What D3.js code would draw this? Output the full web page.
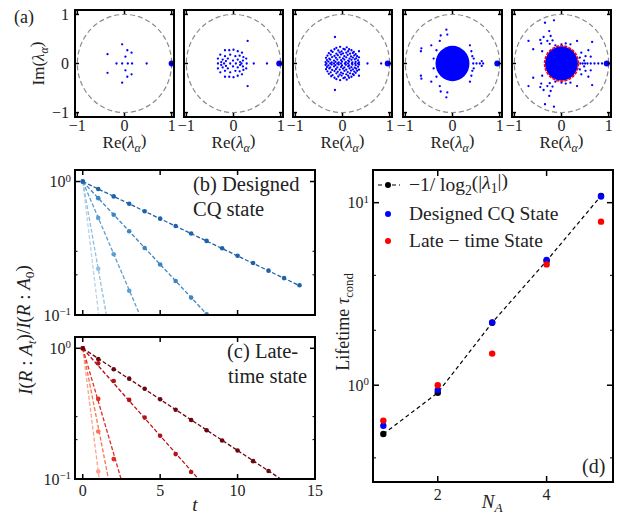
<!DOCTYPE html>
<html>
<head>
<meta charset="utf-8">
<script src="https://cdn.jsdelivr.net/npm/d3@7"></script>
<style>
  body { margin: 0; background: #fff; }
  svg text { font-family: "Liberation Serif", "Times New Roman", serif; fill: #222; }
</style>
</head>
<body>
<div id="fig"></div>
<script>
// ---- (a) spectra: eigenvalues with Im > 0 (conjugates are mirrored), real ones, leading eigenvalue
var eigUpper1 = [[-0.05,0.39],[-0.36,0.19],[0.06,0.27],[0.15,0.22],[0.02,0.14]];
var eigReal1  = [-0.17,-0.05,0.07,0.16,0.47];

var eigUpper2 = [[0.30,0.46],[-0.18,0.27],[-0.09,0.27],[0.00,0.28],[0.09,0.25],[0.18,0.22],
  [-0.28,0.18],[-0.18,0.15],[-0.07,0.18],[0.04,0.15],[0.13,0.16],[0.21,0.13],[-0.33,0.10],
  [-0.23,0.08],[-0.12,0.10],[-0.01,0.06],[0.09,0.08],[0.20,0.06],[0.27,0.10],[-0.26,0.03],
  [-0.16,0.05],[0.14,0.03]];
var eigReal2  = [-0.33,-0.20,-0.07,0.05,0.17,0.28,0.43,0.71];

var eigUpper3 = [[-0.16,0.54],[0.35,0.25],
  [-0.13,0.32],[-0.05,0.34],[0.02,0.30],[0.09,0.33],[0.14,0.29],
  [-0.24,0.26],[-0.17,0.29],[-0.09,0.265],[-0.02,0.245],[0.05,0.285],[0.12,0.25],[0.19,0.27],[0.24,0.235],
  [-0.29,0.21],[-0.21,0.235],[-0.13,0.20],[-0.06,0.225],[0.01,0.205],[0.08,0.22],[0.16,0.20],[0.22,0.215],[0.28,0.19],
  [-0.32,0.16],[-0.25,0.18],[-0.17,0.155],[-0.10,0.17],[-0.03,0.185],[0.04,0.15],[0.11,0.175],[0.18,0.145],[0.25,0.165],[0.31,0.15],
  [-0.35,0.115],[-0.28,0.10],[-0.22,0.13],[-0.14,0.115],[-0.06,0.125],[0.01,0.105],[0.08,0.125],[0.15,0.10],[0.22,0.12],[0.29,0.105],[0.35,0.125],
  [-0.33,0.07],[-0.26,0.08],[-0.18,0.06],[-0.11,0.08],[-0.03,0.07],[0.04,0.08],[0.12,0.06],[0.19,0.075],[0.26,0.085],[0.33,0.065],
  [-0.36,0.03],[-0.30,0.04],[-0.23,0.02],[-0.15,0.035],[-0.08,0.02],[-0.01,0.04],[0.07,0.025],[0.14,0.04],[0.21,0.02],[0.28,0.035],[0.35,0.02]];
var eigReal3  = [-0.34,-0.26,-0.18,-0.11,-0.03,0.05,0.12,0.20,0.27,0.33,0.53,0.82];

var eigUpper4 = [[-0.13,0.69],[-0.25,0.57],[-0.11,0.59],[-0.27,0.46],[-0.45,0.37],[-0.66,0.31],
  [-0.67,0.25],[-0.34,0.27],[0.37,0.37],[0.40,0.25],[0.42,0.15],[0.45,0.10],[0.62,0.05],[-0.40,0.10]];
var eigReal4  = [0.44,0.51,0.58,0.65];

var eigUpper5 = [[-0.35,0.83],[-0.16,0.88],[-0.26,0.66],[-0.38,0.54],[-0.45,0.48],[-0.43,0.41],
  [-0.70,0.46],[-0.60,0.29],[-0.30,0.46],[-0.25,0.40],[-0.19,0.47],[-0.13,0.37],[0.00,0.39],
  [0.09,0.41],[0.19,0.39],[0.33,0.46],[0.65,0.44],[0.57,0.27],[0.51,0.15],[0.62,0.14],
  [0.42,0.22],[0.39,0.12],[0.48,0.06],[-0.41,0.25],[-0.23,0.56]];
var eigReal5  = [0.40,0.45,0.50,0.55,0.62,0.70,0.78,0.86];

var leadEig    = [1.00, 0.97, 0.96, 0.95, 0.96];
var bulkRadius = [0, 0, 0, 0.36, 0.35];   // dense bulk of the spectrum
var ringRadius = [0, 0, 0, 0, 0.36];      // red circle in the last panel

// ---- (b), (c) decay of I(R:A_t)/I(R:A_0), one series per N_A = 1..5
var decayB = [
  [1],
  [1, 0.222],
  [1, 0.534, 0.285, 0.152],
  [1, 0.751, 0.564, 0.424, 0.318, 0.239, 0.180, 0.135, 0.101],
  [1, 0.880, 0.774, 0.681, 0.599, 0.527, 0.464, 0.408, 0.359, 0.316, 0.278, 0.245, 0.215, 0.189, 0.167]
];
var decayC = [
  [1, 0.114],
  [1, 0.231],
  [1, 0.410, 0.142],
  [1, 0.767, 0.562, 0.403, 0.295, 0.214, 0.155, 0.113],
  [1, 0.828, 0.692, 0.586, 0.490, 0.408, 0.339, 0.283, 0.236, 0.197, 0.165, 0.137, 0.115]
];
var fitTauB = [0.62, 0.92, 2.22, 4.85, 10.8];
var fitTauC = [0.64, 1.00, 1.49, 4.50, 7.70];
var colorsB = ["#b6d4ea", "#92bfe0", "#5c9fd1", "#3d85c2", "#1f62ab"];
var colorsC = ["#fca487", "#f7734f", "#e22a27", "#b31219", "#6b0610"];

// ---- (d) lifetimes
var nA          = [1, 2, 3, 4, 5];
var tauLambda   = [0.54, 0.91, 2.20, 4.80, 10.9];
var tauDesigned = [0.60, 0.94, 2.21, 4.85, 10.8];
var tauLate     = [0.64, 1.00, 1.49, 4.59, 7.87];

var svg = d3.select("#fig").append("svg").attr("width", 620).attr("height", 521)
  .attr("font-family", "'Liberation Serif', 'Times New Roman', serif");

function frame(g, w, h) {
  g.append("rect").attr("width", w).attr("height", h)
    .attr("fill", "none").attr("stroke", "#000").attr("stroke-width", 2);
}
function tick(g, x1, y1, x2, y2, w) {
  g.append("line").attr("x1", x1).attr("y1", y1).attr("x2", x2).attr("y2", y2)
    .attr("stroke", "#000").attr("stroke-width", w || 1.5);
}
function powLabel(t, e) {
  t.append("tspan").text("10");
  t.append("tspan").attr("dy", "-0.5em").attr("font-size", "0.68em").text(e);
}

// ================= (a) =================
var panelLeft = [75, 184, 293, 403, 512];
var aTop = 10, aW = 99, aH = 107;
var xa = d3.scaleLinear().domain([-1.05, 1.05]).range([0, aW]);
var ya = d3.scaleLinear().domain([-1.09, 1.09]).range([aH, 0]);
var uppers = [eigUpper1, eigUpper2, eigUpper3, eigUpper4, eigUpper5];
var reals  = [eigReal1, eigReal2, eigReal3, eigReal4, eigReal5];

panelLeft.forEach(function(left, i) {
  var g = svg.append("g").attr("transform", "translate(" + left + "," + aTop + ")");
  g.append("ellipse")
    .attr("cx", xa(0)).attr("cy", ya(0))
    .attr("rx", xa(1) - xa(0)).attr("ry", ya(0) - ya(1))
    .attr("fill", "none").attr("stroke", "#8a8a8a").attr("stroke-width", 1.2)
    .attr("stroke-dasharray", "5,3");

  if (bulkRadius[i] > 0) {
    g.append("ellipse")
      .attr("cx", xa(0)).attr("cy", ya(0))
      .attr("rx", xa(bulkRadius[i]) - xa(0)).attr("ry", ya(0) - ya(bulkRadius[i]))
      .attr("fill", "#0000ff");
  }
  var pts = uppers[i].concat(uppers[i].map(function(p) { return [p[0], -p[1]]; }))
    .concat(reals[i].map(function(r) { return [r, 0]; }));
  g.selectAll("circle.eig").data(pts).enter().append("circle")
    .attr("class", "eig")
    .attr("cx", function(d) { return xa(d[0]); })
    .attr("cy", function(d) { return ya(d[1]); })
    .attr("r", 1.15).attr("fill", "#0000ff");
  if (ringRadius[i] > 0) {
    g.append("ellipse")
      .attr("cx", xa(0)).attr("cy", ya(0))
      .attr("rx", xa(ringRadius[i]) - xa(0)).attr("ry", ya(0) - ya(ringRadius[i]))
      .attr("fill", "none").attr("stroke", "#ff0000").attr("stroke-width", 1.6)
      .attr("stroke-dasharray", "3,1.2");
  }
  g.append("circle").attr("cx", xa(leadEig[i])).attr("cy", ya(0)).attr("r", 3).attr("fill", "#0000ff");

  frame(g, aW, aH);
  [-1, 0, 1].forEach(function(v) {
    tick(g, xa(v), 0, xa(v), 4);
    tick(g, xa(v), aH, xa(v), aH - 4);
    tick(g, 0, ya(v), 4, ya(v));
    tick(g, aW, ya(v), aW - 4, ya(v));
    g.append("text").attr("x", xa(v)).attr("y", aH + 14).attr("text-anchor", "middle")
      .attr("font-size", 16).text(v < 0 ? "\u2212" + Math.abs(v) : v);
  });
  var lab = g.append("text").attr("x", aW / 2).attr("y", aH + 31).attr("text-anchor", "middle").attr("font-size", 17);
  lab.append("tspan").text("Re(");
  lab.append("tspan").attr("font-style", "italic").text("\u03bb");
  lab.append("tspan").attr("font-style", "italic").attr("font-size", "0.7em").attr("dy", "0.3em").text("\u03b1");
  lab.append("tspan").attr("dy", "-0.3em").text(")");

  if (i === 0) {
    [-1, 0, 1].forEach(function(v) {
      g.append("text").attr("x", -6).attr("y", ya(v)).attr("dy", "0.35em").attr("text-anchor", "end")
        .attr("font-size", 16).text(v < 0 ? "\u2212" + Math.abs(v) : v);
    });
    var im = g.append("text").attr("transform", "translate(-31," + (aH / 2) + ") rotate(-90)")
      .attr("text-anchor", "middle").attr("font-size", 17);
    im.append("tspan").text("Im(");
    im.append("tspan").attr("font-style", "italic").text("\u03bb");
    im.append("tspan").attr("font-style", "italic").attr("font-size", "0.7em").attr("dy", "0.3em").text("\u03b1");
    im.append("tspan").attr("dy", "-0.3em").text(")");
  }
});
svg.append("text").attr("x", 14).attr("y", 23).attr("font-size", 18).text("(a)");

// ================= (b), (c) =================
var bcLeft = 75, bcW = 240;
var xt = d3.scaleLinear().domain([-0.5, 15]).range([0, bcW]);

function decayPanel(top, h, data, taus, colors, id, showX) {
  var g = svg.append("g").attr("transform", "translate(" + bcLeft + "," + top + ")");
  var y = d3.scaleLog().domain([0.1, 1.22]).range([h, 0]);
  g.append("clipPath").attr("id", id).append("rect").attr("width", bcW).attr("height", h);
  var plot = g.append("g").attr("clip-path", "url(#" + id + ")");
  var line = d3.line().x(function(d) { return xt(d[0]); }).y(function(d) { return y(d[1]); });

  data.forEach(function(series, k) {
    var tau = taus[k];
    var fit = [0, 14].map(function(t) { return [t, Math.pow(2, -2 * t / tau)]; });
    plot.append("path").attr("d", line(fit)).attr("fill", "none")
      .attr("stroke", colors[k]).attr("stroke-width", 1.3).attr("stroke-dasharray", "4,2");
    plot.selectAll("circle.s" + k).data(series).enter().append("circle")
      .attr("class", "s" + k)
      .attr("cx", function(d, t) { return xt(t); })
      .attr("cy", function(d) { return y(d); })
      .attr("r", 2.3).attr("fill", colors[k]);
  });

  frame(g, bcW, h);
  [0, 5, 10, 15].forEach(function(v) {
    tick(g, xt(v), h, xt(v), h - 5);
    tick(g, xt(v), 0, xt(v), 5);
    if (showX) {
      g.append("text").attr("x", xt(v)).attr("y", h + 17).attr("text-anchor", "middle")
        .attr("font-size", 16).text(v);
    }
  });
  [1, 0.1].forEach(function(v) {
    tick(g, 0, y(v), 5, y(v));
    tick(g, bcW, y(v), bcW - 5, y(v));
    var t = g.append("text").attr("x", -4).attr("y", y(v)).attr("dy", "0.35em")
      .attr("text-anchor", "end").attr("font-size", 16);
    powLabel(t, v === 1 ? "0" : "\u22121");
  });
  [0.2, 0.3].forEach(function(v) {
    tick(g, 0, y(v), 2.5, y(v), 1);
    tick(g, bcW, y(v), bcW - 2.5, y(v), 1);
  });
  return g;
}

var gb = decayPanel(170, 145, decayB, fitTauB, colorsB, "clipB", false);
gb.append("text").attr("x", 118).attr("y", 21).attr("font-size", 20.5).text("(b) Designed");
gb.append("text").attr("x", 118).attr("y", 46).attr("font-size", 20.5).text("CQ state");

var gc = decayPanel(337, 142, decayC, fitTauC, colorsC, "clipC", true);
gc.append("text").attr("x", 152).attr("y", 21).attr("font-size", 20.5).text("(c) Late-");
gc.append("text").attr("x", 153).attr("y", 46).attr("font-size", 20.5).text("time state");

svg.append("text").attr("x", bcLeft + xt(7.25)).attr("y", 511).attr("text-anchor", "middle")
  .attr("font-size", 19).attr("font-style", "italic").text("t");

var yl = svg.append("text").attr("transform", "translate(32,330) rotate(-90)")
  .attr("text-anchor", "middle").attr("font-size", 19);
function it(s) { yl.append("tspan").attr("font-style", "italic").text(s); }
function up(s) { yl.append("tspan").text(s); }
it("I"); up("("); it("R"); up(" : "); it("A");
yl.append("tspan").attr("font-style", "italic").attr("font-size", "0.7em").attr("dy", "0.3em").text("t");
yl.append("tspan").attr("dy", "-0.3em").text(")/");
it("I"); up("("); it("R"); up(" : "); it("A");
yl.append("tspan").attr("font-size", "0.7em").attr("dy", "0.3em").text("0");
yl.append("tspan").attr("dy", "-0.3em").text(")");

// ================= (d) =================
var dLeft = 373, dTop = 170, dW = 240, dH = 312;
var xd = d3.scaleLinear().domain([0.81, 5.22]).range([0, dW]);
var yd = d3.scaleLog().domain([0.295, 15.1]).range([dH, 0]);
var gd = svg.append("g").attr("transform", "translate(" + dLeft + "," + dTop + ")");

var lineD = d3.line().x(function(d, i) { return xd(nA[i]); }).y(function(d) { return yd(d); });
gd.append("path").attr("d", lineD(tauLambda)).attr("fill", "none")
  .attr("stroke", "#000").attr("stroke-width", 1.2).attr("stroke-dasharray", "4,3");
function dots(vals, col) {
  gd.selectAll(null).data(vals).enter().append("circle")
    .attr("cx", function(d, i) { return xd(nA[i]); })
    .attr("cy", function(d) { return yd(d); })
    .attr("r", 3.2).attr("fill", col);
}
dots(tauLambda, "#000");
dots(tauDesigned, "#0000ff");
dots(tauLate, "#ff0000");

frame(gd, dW, dH);
[2, 4].forEach(function(v) {
  tick(gd, xd(v), dH, xd(v), dH - 6);
  tick(gd, xd(v), 0, xd(v), 6);
  gd.append("text").attr("x", xd(v)).attr("y", dH + 18).attr("text-anchor", "middle")
    .attr("font-size", 16).text(v);
});
[1, 10].forEach(function(v) {
  tick(gd, 0, yd(v), 6, yd(v));
  tick(gd, dW, yd(v), dW - 6, yd(v));
  var t = gd.append("text").attr("x", -4).attr("y", yd(v)).attr("dy", "0.35em")
    .attr("text-anchor", "end").attr("font-size", 16);
  powLabel(t, v === 1 ? "0" : "1");
});
[0.4, 2, 4].forEach(function(v) {
  tick(gd, 0, yd(v), 3, yd(v), 1);
  tick(gd, dW, yd(v), dW - 3, yd(v), 1);
});
gd.append("text").attr("x", 209).attr("y", 303).attr("font-size", 20).text("(d)");

// legend
var lg = gd.append("g");
lg.append("line").attr("x1", 5).attr("x2", 27).attr("y1", 15).attr("y2", 15)
  .attr("stroke", "#000").attr("stroke-width", 1.2).attr("stroke-dasharray", "4,3");
lg.append("circle").attr("cx", 15).attr("cy", 15).attr("r", 3).attr("fill", "#000");
var l1 = lg.append("text").attr("x", 36).attr("y", 21).attr("font-size", 19.5);
l1.append("tspan").text("\u22121/ log");
l1.append("tspan").attr("font-size", "0.7em").attr("dy", "0.3em").text("2");
l1.append("tspan").attr("dy", "-0.3em").text("(|");
l1.append("tspan").attr("font-style", "italic").text("\u03bb");
l1.append("tspan").attr("font-size", "0.7em").attr("dy", "0.3em").text("1");
l1.append("tspan").attr("dy", "-0.3em").text("|)");
lg.append("circle").attr("cx", 15).attr("cy", 44).attr("r", 3).attr("fill", "#0000ff");
lg.append("text").attr("x", 36).attr("y", 50).attr("font-size", 19.5).text("Designed CQ State");
lg.append("circle").attr("cx", 15).attr("cy", 71).attr("r", 3).attr("fill", "#ff0000");
lg.append("text").attr("x", 36).attr("y", 77).attr("font-size", 19.5).text("Late \u2212 time State");

var nl = svg.append("text").attr("x", dLeft + xd(3)).attr("y", 508).attr("text-anchor", "middle").attr("font-size", 19);
nl.append("tspan").attr("font-style", "italic").text("N");
nl.append("tspan").attr("font-style", "italic").attr("font-size", "0.7em").attr("dy", "0.3em").text("A");

var tlab = svg.append("text").attr("transform", "translate(349,322) rotate(-90)")
  .attr("text-anchor", "middle").attr("font-size", 18);
tlab.append("tspan").text("Lifetime ");
tlab.append("tspan").attr("font-style", "italic").text("\u03c4");
tlab.append("tspan").attr("font-size", "0.7em").attr("dy", "0.3em").text("cond");
</script>
</body>
</html>
